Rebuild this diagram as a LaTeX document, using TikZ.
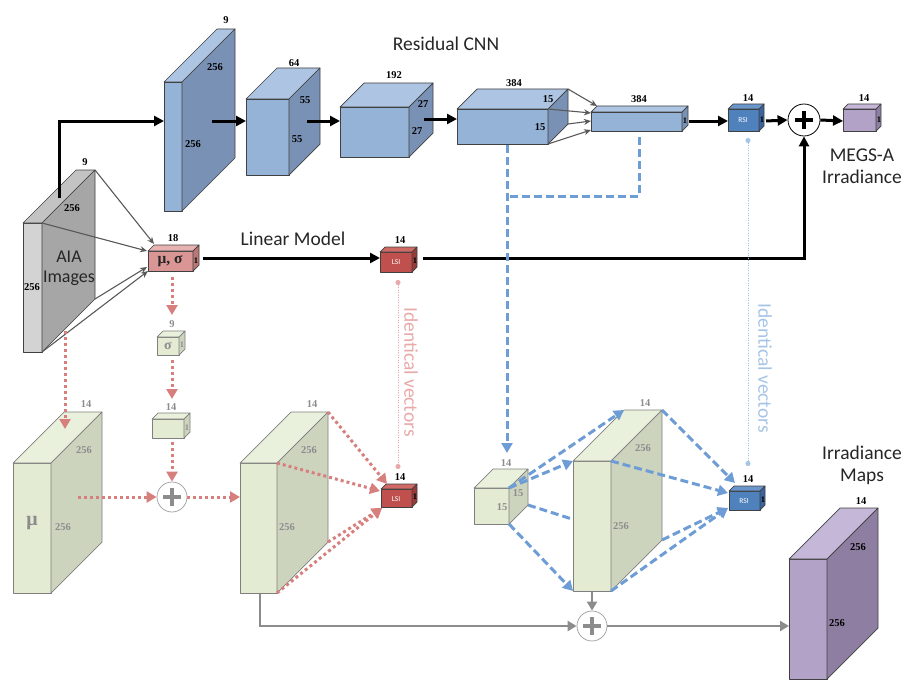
\documentclass[tikz,border=0pt]{standalone}
\usepackage{fontspec}
\setmainfont{Liberation Serif}
\newfontfamily\sansf{Carlito}
\usetikzlibrary{arrows.meta}

\definecolor{bfront}{HTML}{95B3D7}
\definecolor{btop}{HTML}{ADC4E3}
\definecolor{bside}{HTML}{7991B4}
\definecolor{gfront}{HTML}{E3EBD3}
\definecolor{gtop}{HTML}{E9F0DC}
\definecolor{gside}{HTML}{CDD4BE}
\definecolor{gedge}{HTML}{7F7F7F}
\definecolor{afront}{HTML}{D3D3D3}
\definecolor{atop}{HTML}{C3C3C3}
\definecolor{aside}{HTML}{A6A6A6}
\definecolor{pfront}{HTML}{B3A2C7}
\definecolor{ptop}{HTML}{C5B7D7}
\definecolor{pside}{HTML}{8E7FA2}
\definecolor{msfront}{HTML}{D99694}
\definecolor{mstop}{HTML}{E6B3B2}
\definecolor{msside}{HTML}{BA7775}
\definecolor{lfront}{HTML}{C0504D}
\definecolor{ltop}{HTML}{D06A67}
\definecolor{lside}{HTML}{9A3A38}
\definecolor{rfront}{HTML}{4F81BD}
\definecolor{rtop}{HTML}{6A96CC}
\definecolor{rside}{HTML}{3A659C}
\definecolor{pinkline}{HTML}{D77F7D}
\definecolor{blueline}{HTML}{6E9DD6}
\definecolor{lblue}{HTML}{A6C4E6}
\definecolor{lpink}{HTML}{E8A9A8}
\definecolor{dgray}{HTML}{595959}
\definecolor{mgray}{HTML}{8C8C8C}

\newcommand{\mycube}[9]{%
  \coordinate (#1-ftl) at (#2,#3);
  \coordinate (#1-ftr) at (#4,#3);
  \coordinate (#1-fbl) at (#2,#5);
  \coordinate (#1-fbr) at (#4,#5);
  \coordinate (#1-btl) at ({#2+#6},{#3-#6});
  \coordinate (#1-btr) at ({#4+#6},{#3-#6});
  \coordinate (#1-bbr) at ({#4+#6},{#5-#6});
  \filldraw[cubeedge,fill=#7] (#1-ftl) rectangle (#1-fbr);
  \filldraw[cubeedge,fill=#8] (#1-ftl) -- (#1-btl) -- (#1-btr) -- (#1-ftr) -- cycle;
  \filldraw[cubeedge,fill=#9] (#1-ftr) -- (#1-btr) -- (#1-bbr) -- (#1-fbr) -- cycle;
}

\tikzset{
  cubeedge/.style={draw=black!75, line width=0.7pt, line join=round},
  dim/.style={font=\bfseries\fontsize{10.5}{11}\selectfont, text=black, inner sep=0pt},
  gdim/.style={font=\bfseries\fontsize{10.5}{11}\selectfont, text=mgray, inner sep=0pt},
  tiny1/.style={font=\bfseries\fontsize{8.5}{8.5}\selectfont, inner sep=0pt},
  tag/.style={font=\sansf\fontsize{7.5}{7.5}\selectfont, text=white!92, inner sep=0pt},
  lbl/.style={font=\sansf\fontsize{19.5}{22}\selectfont, text=black!85, align=center, inner sep=0pt},
  blkarrow/.style={draw=black, line width=3pt, -{Triangle[length=10pt,width=10pt]}},
  thinarrow/.style={draw=dgray, line width=1.1pt, -{Stealth[length=7pt,width=6pt]}},
  pinkdot/.style={draw=pinkline, line width=3pt, dash pattern=on 3pt off 3pt},
  pinkarrow/.style={pinkdot, -{Triangle[length=10pt,width=11pt]}},
  bluedash/.style={draw=blueline, line width=3pt, dash pattern=on 8pt off 4pt},
  bluearrow/.style={bluedash, -{Triangle[length=10pt,width=11pt]}},
  grayarrow/.style={draw=mgray, line width=2.5pt, -{Triangle[length=9pt,width=10pt]}},
  idline/.style={line width=1pt, dash pattern=on 1pt off 1.5pt, {Circle[length=5pt]}-{Circle[length=5pt]}},
  plusblk/.style={circle, draw=black, line width=0.8pt, fill=white, minimum size=32pt, inner sep=0pt,
    path picture={\draw[line width=3.2pt] ([xshift=-9pt]path picture bounding box.center) -- ([xshift=9pt]path picture bounding box.center);
                  \draw[line width=3.2pt] ([yshift=-9pt]path picture bounding box.center) -- ([yshift=9pt]path picture bounding box.center);}},
  plusgray/.style={circle, draw=black!35, line width=0.8pt, fill=white, minimum size=30pt, inner sep=0pt,
    path picture={\draw[mgray, line width=3.2pt] ([xshift=-9pt]path picture bounding box.center) -- ([xshift=9pt]path picture bounding box.center);
                  \draw[mgray, line width=3.2pt] ([yshift=-9pt]path picture bounding box.center) -- ([yshift=9pt]path picture bounding box.center);}},
}

\begin{document}
\begin{tikzpicture}[x=1pt, y=-1pt]
\useasboundingbox (0,0) rectangle (917,698);

% hidden dashed line (behind big green block)
\coordinate (gc-mid) at (528,505);
\coordinate (g3-hid) at (575,520);
\draw[bluedash] (gc-mid) -- (g3-hid);

% ---------- cuboids ----------
\mycube{aia}{23}{223}{42}{352}{53}{afront}{atop}{aside}
\mycube{c1}{164}{82}{182}{211}{53}{bfront}{btop}{bside}
\mycube{c2}{246}{99}{289}{175}{31}{bfront}{btop}{bside}
\mycube{c3}{340}{107}{409}{157}{24}{bfront}{btop}{bside}
\mycube{c4}{457}{109}{548}{144}{20}{bfront}{btop}{bside}
\mycube{c5}{591}{112}{682}{131}{6}{bfront}{btop}{bside}
\mycube{rsi1}{728}{109}{759}{131}{5}{rfront}{rtop}{rside}
\mycube{megs}{843}{109}{876}{131}{5}{pfront}{ptop}{pside}
\mycube{ms}{148}{251}{193}{271}{6}{msfront}{mstop}{msside}
\mycube{lsi1}{380}{252}{412}{272}{5}{lfront}{ltop}{lside}
\begin{scope}[cubeedge/.style={draw=gedge, line width=0.7pt, line join=round}]
\mycube{sig}{157}{337}{179}{355}{6}{gfront}{gtop}{gside}
\mycube{g14}{152}{419}{184}{438}{6}{gfront}{gtop}{gside}
\mycube{mu}{13}{463}{51}{593}{51}{gfront}{gtop}{gside}
\mycube{g2}{240}{463}{277}{593}{51}{gfront}{gtop}{gside}
\mycube{gc}{474}{488}{509}{524}{19}{gfront}{gtop}{gside}
\mycube{g3}{573}{461}{611}{591}{51}{gfront}{gtop}{gside}
\end{scope}
\mycube{lsi2}{381}{489}{412}{507}{5}{lfront}{ltop}{lside}
\mycube{rsi2}{729}{491}{760}{510}{5}{rfront}{rtop}{rside}
\mycube{irr}{789}{559}{827}{679}{51}{pfront}{ptop}{pside}

% ---------- plus nodes ----------
\node[plusblk] (p1) at (804,120) {};
\node[plusgray] (p2) at (172,497) {};
\node[plusgray] (p3) at (592,626) {};

% ---------- text labels ----------
\node[lbl] (title) at (446,44) {Residual CNN};
\node[lbl] (linmod) at (293,239) {Linear Model};
\node[lbl] (megstxt) at (862,166) {MEGS-A\\[0pt]Irradiance};
\node[lbl] (irrtxt) at (862,465) {Irradiance\\[0pt]Maps};
\node[lbl, font=\sansf\fontsize{18}{20}\selectfont, text=black!85] (aiatxt) at (69,268) {AIA\\[0pt]Images};
\node[lbl, text=lpink, rotate=-90] (idp) at (411,372) {Identical vectors};
\node[lbl, text=lblue, rotate=-90] (idb) at (765,368) {Identical vectors};

% dims
\node[dim] at (85,162) {9};
\node[dim] at (72,208) {256};
\node[dim] at (32,287) {256};
\node[dim] at (226,20) {9};
\node[dim] at (215,67) {256};
\node[dim] at (193,144) {256};
\node[dim] at (294,63) {64};
\node[dim] at (305,100) {55};
\node[dim] at (297,139) {55};
\node[dim] at (394,75) {192};
\node[dim] at (423,104) {27};
\node[dim] at (417,131) {27};
\node[dim] at (514,83) {384};
\node[dim] at (548,99) {15};
\node[dim] at (540,127) {15};
\node[dim] at (639,99) {384};
\node[tiny1] at (685,121) {1};
\node[dim] at (748,98) {14};
\node[tag] at (743,120) {RSI};
\node[tiny1] at (762,120) {1};
\node[dim] at (864,98) {14};
\node[tiny1] at (879,120) {1};
\node[dim] at (173,238) {18};
\node[font=\bfseries\fontsize{15.5}{15.5}\selectfont, text=black!85, inner sep=0pt] at (170,261) {μ, σ};
\node[tiny1] at (196,261) {1};
\node[dim] at (400,240) {14};
\node[tag] at (396,262) {LSI};
\node[tiny1] at (415,261) {1};
\node[gdim] at (172,324) {9};
\node[font=\bfseries\fontsize{14}{14}\selectfont, text=mgray, inner sep=0pt] at (168,346) {σ};
\node[tiny1, text=mgray] at (182,345) {1};
\node[gdim] at (171,407) {14};
\node[tiny1, text=mgray] at (187,428) {1};
\node[gdim] at (86,404) {14};
\node[gdim] at (84,450) {256};
\node[gdim] at (63,527) {256};
\node[font=\bfseries\fontsize{20}{20}\selectfont, text=mgray, inner sep=0pt] at (32,523) {μ};
\node[gdim] at (312,404) {14};
\node[gdim] at (309,450) {256};
\node[gdim] at (287,527) {256};
\node[dim] at (400,477) {14};
\node[tag] at (396,499) {LSI};
\node[tiny1] at (415,497) {1};
\node[gdim] at (506,463) {14};
\node[gdim] at (518,493) {15};
\node[gdim] at (502,507) {15};
\node[gdim] at (645,403) {14};
\node[gdim] at (643,448) {256};
\node[gdim] at (621,526) {256};
\node[dim] at (748,479) {14};
\node[tag] at (744,501) {RSI};
\node[tiny1] at (763,500) {1};
\node[dim] at (861,501) {14};
\node[dim] at (858,547) {256};
\node[dim] at (837,623) {256};

% ---------- black connectors ----------
\coordinate (aia-out) at (59,198);
\coordinate (c1-in) at (164,121);
\draw[blkarrow] (aia-out) |- (c1-in);
\coordinate (c1-out) at (212,121);
\coordinate (c2-in) at (246,121);
\draw[blkarrow] (c1-out) -- (c2-in);
\coordinate (c2-out) at (307,121);
\coordinate (c3-in) at (340,121);
\draw[blkarrow] (c2-out) -- (c3-in);
\coordinate (c3-out) at (424,119);
\coordinate (c4-in) at (457,119);
\draw[blkarrow] (c3-out) -- (c4-in);
\coordinate (c5-out) at (689,121);
\coordinate (rsi1-in) at (728,121);
\draw[blkarrow] (c5-out) -- (rsi1-in);
\coordinate (rsi1-out) at (766,121);
\draw[blkarrow] (rsi1-out) -- (p1.west);
\coordinate (megs-in) at (843,121);
\draw[blkarrow] (p1.east) -- (megs-in);
\coordinate (ms-out) at (203,258);
\coordinate (lsi1-in) at (380,258);
\draw[blkarrow] (ms-out) -- (lsi1-in);
\coordinate (lsi1-out) at (423,258);
\draw[blkarrow] (lsi1-out) -| (p1.south);

% ---------- thin gray connectors ----------
\coordinate (ms-a1) at (154,244);
\coordinate (ms-a2) at (147,251);
\coordinate (ms-a3) at (147,267);
\coordinate (ms-a4) at (148,271);
\draw[thinarrow] (aia-btr) -- (ms-a1);
\draw[thinarrow] (aia-ftr) -- (ms-a2);
\draw[thinarrow] (aia-bbr) -- (ms-a3);
\draw[thinarrow] (aia-fbr) -- (ms-a4);
\coordinate (c5-a1) at (597,106);
\coordinate (c5-a2) at (591,113);
\coordinate (c5-a3) at (591,121);
\coordinate (c5-a4) at (591,130);
\draw[thinarrow] (c4-btr) -- (c5-a1);
\draw[thinarrow] (c4-ftr) -- (c5-a2);
\draw[thinarrow] (c4-bbr) -- (c5-a3);
\draw[thinarrow] (c4-fbr) -- (c5-a4);

% ---------- pink dotted connectors ----------
\coordinate (aia-dn) at (65,331);
\coordinate (mu-in) at (65,429);
\draw[pinkarrow] (aia-dn) -- (mu-in);
\coordinate (ms-dn) at (172,277);
\coordinate (sig-in) at (172,315);
\draw[pinkarrow] (ms-dn) -- (sig-in);
\coordinate (sig-dn) at (172,360);
\coordinate (g14-in) at (172,399);
\draw[pinkarrow] (sig-dn) -- (g14-in);
\coordinate (g14-dn) at (172,442);
\draw[pinkarrow] (g14-dn) -- (p2.north);
\coordinate (mu-out) at (78,497);
\draw[pinkarrow] (mu-out) -- (p2.west);
\coordinate (g2-in) at (240,497);
\draw[pinkarrow] (p2.east) -- (g2-in);
\coordinate (lsi2-a) at (387,484);
\coordinate (lsi2-b) at (380,491);
\coordinate (lsi2-c) at (382,508);
\draw[pinkarrow] (g2-btr) -- (lsi2-a);
\draw[pinkarrow] (g2-ftr) -- (lsi2-b);
\draw[pinkarrow] (g2-bbr) -- (lsi2-c);
\draw[pinkarrow] (g2-fbr) -- (lsi2-c);
\coordinate (lsi1-dn) at (398,280);
\coordinate (lsi2-up) at (398,469);
\draw[idline, draw=lpink, fill=lpink] (lsi1-dn) -- (lsi2-up);

% ---------- blue dashed connectors ----------
\coordinate (c4-dn) at (507,145);
\coordinate (gc-in) at (507,453);
\draw[bluearrow] (c4-dn) -- (gc-in);
\coordinate (c5-dn) at (639,137);
\coordinate (bj) at (507,196);
\draw[bluedash] (c5-dn) |- (bj);
\draw[bluearrow] (gc-ftr) -- (g3-btl);
\draw[bluearrow] (gc-ftr) -- (g3-ftl);
\draw[bluearrow] (gc-fbr) -- (g3-fbl);
\coordinate (rsi2-a) at (735,483);
\coordinate (rsi2-b) at (728,493);
\coordinate (rsi2-c) at (728,508);
\draw[bluearrow] (g3-btr) -- (rsi2-a);
\draw[bluearrow] (g3-ftr) -- (rsi2-b);
\draw[bluearrow] (g3-bbr) -- (rsi2-c);
\draw[bluearrow] (g3-fbr) -- (rsi2-c);
\coordinate (rsi1-dn) at (748,138);
\coordinate (rsi2-up) at (748,466);
\draw[idline, draw=lblue, fill=lblue] (rsi1-dn) -- (rsi2-up);

% ---------- gray bottom connectors ----------
\coordinate (g3-dn) at (592,592);
\draw[grayarrow] (g3-dn) -- (p3.north);
\coordinate (g2-dn) at (260,594);
\draw[grayarrow] (g2-dn) |- (p3.west);
\coordinate (irr-in) at (789,626);
\draw[grayarrow] (p3.east) -- (irr-in);
\end{tikzpicture}
\end{document}
